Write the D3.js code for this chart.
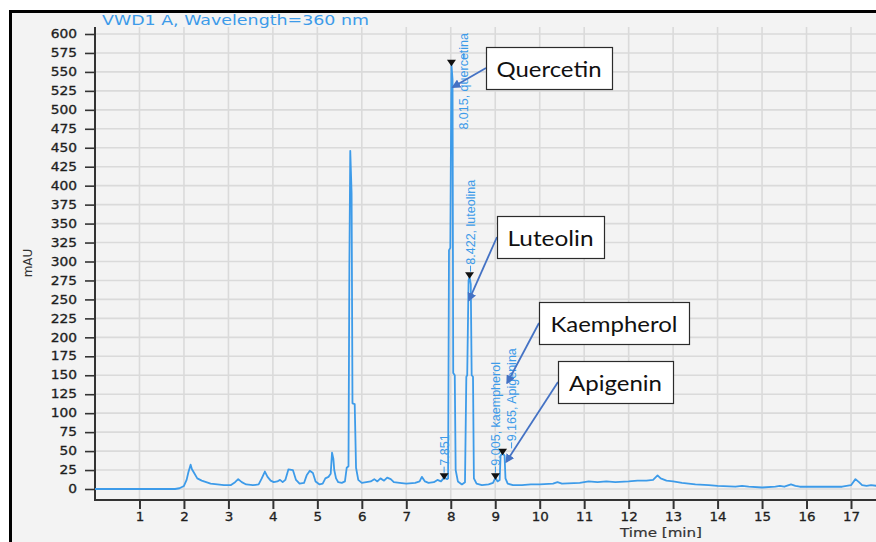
<!DOCTYPE html>
<html>
<head>
<meta charset="utf-8">
<script src="https://cdn.jsdelivr.net/npm/d3@7"></script>
<style>
  html, body { margin: 0; padding: 0; background: #ffffff; }
  svg { display: block; }
</style>
</head>
<body>
<svg id="chart" width="876" height="542"></svg>
<script>
// Detector trace: retention time (min) and absorbance (mAU)
const time = [
  0.00, 1.80, 1.90, 2.00, 2.06, 2.10, 2.15, 2.18, 2.22, 2.30, 2.40, 2.50, 2.60, 2.75, 2.90,
  3.05, 3.15, 3.22, 3.30, 3.40, 3.55, 3.68, 3.75, 3.82, 3.88, 3.95, 4.02, 4.10, 4.16, 4.22,
  4.28, 4.35, 4.45, 4.52, 4.60, 4.70, 4.76, 4.83, 4.90, 4.96, 5.05, 5.12, 5.18, 5.25, 5.30,
  5.33, 5.36, 5.38, 5.42, 5.47, 5.55, 5.62, 5.66, 5.70, 5.72, 5.74, 5.77, 5.79, 5.84, 5.87,
  5.92, 6.00, 6.10, 6.20, 6.28, 6.35, 6.42, 6.50, 6.57, 6.65, 6.72, 6.85, 7.00, 7.20, 7.30,
  7.35, 7.42, 7.50, 7.62, 7.70, 7.78, 7.851, 7.92, 7.94, 7.96, 7.99, 8.015, 8.04, 8.055, 8.09,
  8.11, 8.16, 8.25, 8.32, 8.35, 8.37, 8.40, 8.422, 8.45, 8.47, 8.50, 8.52, 8.58, 8.70, 8.85,
  8.95, 9.005, 9.05, 9.10, 9.12, 9.165, 9.21, 9.23, 9.28, 9.40, 9.60, 9.80, 10.00, 10.30, 10.40,
  10.50, 10.90, 11.10, 11.30, 11.50, 11.70, 12.00, 12.20, 12.40, 12.55, 12.65, 12.72, 12.85, 13.00, 13.20,
  13.50, 13.80, 14.00, 14.40, 14.55, 14.70, 15.00, 15.30, 15.40, 15.50, 15.65, 15.75, 15.85, 16.30, 16.80,
  17.00, 17.10, 17.18, 17.25, 17.35, 17.45, 17.60
];
const mAU = [
  0, 0, 1, 4, 12, 22, 32, 26, 22, 14, 11, 9, 7, 6, 5,
  5, 9, 13, 9, 6, 5, 6, 14, 23, 16, 11, 9, 10, 12, 9,
  12, 26, 25, 12, 7, 8, 18, 24, 21, 10, 6, 7, 14, 16, 20,
  48, 40, 25, 14, 9, 8, 10, 28, 30, 293, 446, 390, 113, 112, 28,
  12, 8, 9, 10, 13, 10, 14, 11, 15, 13, 9, 8, 7, 8, 10,
  16, 10, 8, 9, 12, 10, 15, 13, 14, 315, 318, 560, 540, 153, 150,
  25, 10, 6, 9, 148, 150, 275, 280, 270, 150, 148, 14, 7, 5, 6,
  8, 15, 10, 12, 44, 47, 44, 14, 7, 5, 5, 6, 6, 7, 9,
  7, 8, 10, 9, 10, 9, 10, 11, 11, 12, 18, 14, 11, 10, 8,
  6, 5, 4, 3, 4, 3, 2, 3, 4, 3, 6, 4, 3, 3, 3,
  5, 13, 9, 5, 4, 5, 4
];

// Integrated peaks labelled by the data system
const peakRT = [7.851, 8.015, 8.422, 9.005, 9.165];
const peakHeight = [15, 560, 280, 15, 47];
const peakText = ["7.851", "8.015, quercetina", "8.422, luteolina", "9.005, kaempherol", "9.165, Apigenina"];

// Identified compounds (callouts)
const compounds = ["Quercetin", "Luteolin", "Kaempherol", "Apigenin"];

// Axis ticks
const yTicks = [0, 25, 50, 75, 100, 125, 150, 175, 200, 225, 250, 275, 300, 325, 350, 375, 400,
                425, 450, 475, 500, 525, 550, 575, 600];
const xTicks = [1, 2, 3, 4, 5, 6, 7, 8, 9, 10, 11, 12, 13, 14, 15, 16, 17];

const title = "VWD1 A, Wavelength=360 nm";
const xTitle = "Time [min]";
const yTitle = "mAU";

// ---------------------------------------------------------------------------
const W = 876, H = 542;
const plotLeft = 95, plotTop = 27, axisY = 500;
const svg = d3.select("#chart");

const x = d3.scaleLinear().domain([0, 17]).range([plotLeft, 851]);
const y = d3.scaleLinear().domain([0, 600]).range([489, 34]);

// panel with heavy frame on the left and top
svg.append("rect").attr("x", 10).attr("y", 10).attr("width", W - 10).attr("height", H - 10)
  .attr("fill", "#f3f3f3");
svg.append("line").attr("x1", 10.5).attr("x2", 10.5).attr("y1", 10).attr("y2", H)
  .attr("stroke", "#000").attr("stroke-width", 3);
svg.append("line").attr("x1", 9).attr("x2", W).attr("y1", 11.5).attr("y2", 11.5)
  .attr("stroke", "#000").attr("stroke-width", 3);

// grid
const grid = svg.append("g").attr("stroke", "#dadada").attr("stroke-width", 1.6);
grid.selectAll("line.h").data(yTicks).join("line").attr("class", "h")
  .attr("x1", plotLeft).attr("x2", W).attr("y1", d => y(d)).attr("y2", d => y(d));
grid.selectAll("line.v").data(xTicks.concat([18])).join("line").attr("class", "v")
  .attr("x1", d => x(d)).attr("x2", d => x(d)).attr("y1", plotTop).attr("y2", axisY);

// title
svg.append("text").attr("x", 102).attr("y", 25)
  .attr("font-family", "DejaVu Sans").attr("font-size", 13.5)
  .attr("fill", "#3d9be9")
  .attr("textLength", 267).attr("lengthAdjust", "spacingAndGlyphs")
  .text(title);

// y axis
const yAxis = svg.append("g").attr("transform", `translate(${plotLeft},0)`)
  .call(d3.axisLeft(y).tickValues(yTicks).tickSize(10).tickPadding(8).tickSizeOuter(0));
yAxis.select(".domain").remove();
yAxis.selectAll(".tick line").attr("stroke", "#333").attr("stroke-width", 1.6);
yAxis.selectAll(".tick text")
  .attr("font-family", "DejaVu Sans").attr("font-size", 11.5).attr("fill", "#1e1e1e")
  .attr("stroke", "#1e1e1e").attr("stroke-width", 0.3)
  .attr("x", -18 / 1.2).attr("transform", "scale(1.2,1)");

// x axis
const xAxis = svg.append("g").attr("transform", `translate(0,${axisY})`)
  .call(d3.axisBottom(x).tickValues(xTicks).tickSize(9).tickPadding(3).tickSizeOuter(0));
xAxis.select(".domain").remove();
xAxis.selectAll(".tick line").attr("stroke", "#333").attr("stroke-width", 2);
xAxis.selectAll(".tick text")
  .attr("font-family", "DejaVu Sans").attr("font-size", 12).attr("fill", "#1e1e1e")
  .attr("stroke", "#1e1e1e").attr("stroke-width", 0.3)
  .attr("transform", "scale(1.12,1)");

// axis lines
svg.append("line").attr("x1", plotLeft).attr("x2", plotLeft).attr("y1", plotTop).attr("y2", axisY + 1)
  .attr("stroke", "#333").attr("stroke-width", 2);
svg.append("line").attr("x1", plotLeft - 1).attr("x2", W).attr("y1", axisY).attr("y2", axisY)
  .attr("stroke", "#333").attr("stroke-width", 2);

// axis titles
svg.append("text").attr("transform", "translate(32,263) rotate(-90)")
  .attr("text-anchor", "middle")
  .attr("font-family", "DejaVu Sans").attr("font-size", 12).attr("fill", "#333")
  .text(yTitle);
svg.append("text").attr("x", 620).attr("y", 537)
  .attr("font-family", "DejaVu Sans").attr("font-size", 12).attr("fill", "#333")
  .attr("stroke", "#333").attr("stroke-width", 0.2)
  .attr("textLength", 82).attr("lengthAdjust", "spacingAndGlyphs")
  .text(xTitle);

// trace
svg.append("clipPath").attr("id", "plotClip").append("rect")
  .attr("x", plotLeft).attr("y", plotTop).attr("width", W - plotLeft).attr("height", axisY - plotTop);
const trace = time.map((t, i) => [t, mAU[i]]);
svg.append("path").datum(trace)
  .attr("clip-path", "url(#plotClip)")
  .attr("fill", "none").attr("stroke", "#3d9be9").attr("stroke-width", 1.8)
  .attr("stroke-linejoin", "round")
  .attr("d", d3.line().x(d => x(d[0])).y(d => y(d[1])));

// peak markers and retention-time labels
const labelDx = [0, 12, 1, 0, 9];
const peaks = peakRT.map((rt, i) => ({ rt, h: peakHeight[i], text: peakText[i], dx: labelDx[i] }));
const pk = svg.append("g");
pk.selectAll("path").data(peaks).join("path")
  .attr("fill", "#111")
  .attr("d", d => {
    const cx = x(d.rt), cy = y(d.h);
    return `M${cx - 4.5},${cy - 4.5}L${cx + 4.5},${cy - 4.5}L${cx},${cy + 2}Z`;
  });
pk.selectAll("line").data(peaks).join("line")
  .attr("stroke", "#3d9be9").attr("stroke-width", 1)
  .attr("x1", d => x(d.rt) + d.dx).attr("x2", d => x(d.rt) + d.dx)
  .attr("y1", d => y(d.h) - 5).attr("y2", d => y(d.h) - 11);
pk.selectAll("text").data(peaks).join("text")
  .attr("font-family", "Liberation Sans").attr("font-size", 12.5).attr("fill", "#3d9be9")
  .attr("dy", "0.35em")
  .text(d => d.text)
  .each(function(d) {
    const len = this.getComputedTextLength();
    const bottom = Math.max(y(d.h) - 12, plotTop + 6 + len);
    d3.select(this).attr("transform", `translate(${x(d.rt) + d.dx},${bottom}) rotate(-90)`);
  });

// compound callouts with arrows pointing at their peaks
const callouts = [
  { name: compounds[0], box: [486, 47, 126, 42], tip: [8.05, 530], len: 105 },
  { name: compounds[1], box: [497, 216, 107, 42], tip: [8.41, 249], len: 86 },
  { name: compounds[2], box: [539, 302, 150, 42], tip: [9.27, 140], len: 127 },
  { name: compounds[3], box: [558, 361, 115, 42], tip: [9.25, 36], len: 93 }
];
const defs = svg.append("defs");
defs.append("marker").attr("id", "arrowHead")
  .attr("viewBox", "0 0 10 10").attr("refX", 8).attr("refY", 5)
  .attr("markerWidth", 5).attr("markerHeight", 5).attr("orient", "auto")
  .append("path").attr("d", "M0,0L10,5L0,10Z").attr("fill", "#4472c4");

const co = svg.append("g");
co.selectAll("line").data(callouts).join("line")
  .attr("stroke", "#4472c4").attr("stroke-width", 1.8)
  .attr("marker-end", "url(#arrowHead)")
  .attr("x1", d => d.box[0]).attr("y1", d => d.box[1] + d.box[3] / 2)
  .attr("x2", d => x(d.tip[0])).attr("y2", d => y(d.tip[1]));
co.selectAll("rect").data(callouts).join("rect")
  .attr("x", d => d.box[0] + 0.5).attr("y", d => d.box[1] + 0.5)
  .attr("width", d => d.box[2]).attr("height", d => d.box[3])
  .attr("fill", "#ffffff").attr("stroke", "#2b2b2b").attr("stroke-width", 1.2);
co.selectAll("text").data(callouts).join("text")
  .attr("x", d => d.box[0] + d.box[2] / 2).attr("y", d => d.box[1] + 30)
  .attr("text-anchor", "middle")
  .attr("font-family", "Lato").attr("font-size", 22).attr("fill", "#111")
  .attr("textLength", d => d.len).attr("lengthAdjust", "spacingAndGlyphs")
  .text(d => d.name);
</script>
</body>
</html>
